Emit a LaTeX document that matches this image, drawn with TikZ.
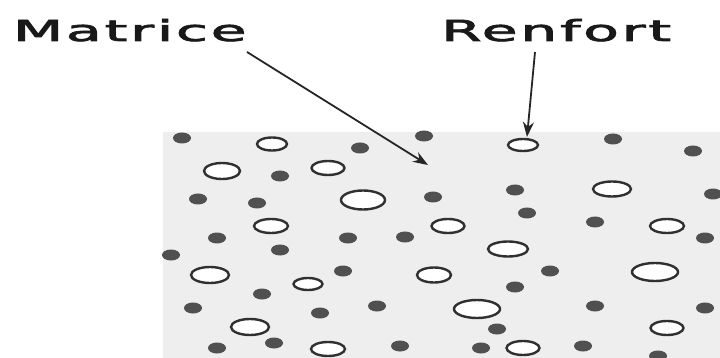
\documentclass[tikz,border=0pt]{standalone}
\usepackage{fontspec}
\usetikzlibrary{arrows.meta}
\newfontfamily\lblfont[LetterSpace=5,FakeBold=2.2]{DejaVu Sans}
\definecolor{matgray}{HTML}{EEEEEE}
\definecolor{dotgray}{HTML}{505050}
\definecolor{ringgray}{HTML}{303030}
\tikzset{
  lbl/.style={anchor=base west, inner sep=0pt, text=black!90,
    font=\lblfont\fontsize{29}{32}\selectfont},
  ptr/.style={draw=black!85, line width=1.8pt,
    -{Stealth[length=15pt,width=11pt]}},
  fib/.style={fill=dotgray},
  ring/.style={fill=white, draw=ringgray, line width=2.4pt},
}
\newcommand{\fdot}[2]{\fill[fib] (#1,#2) ellipse [x radius=9pt, y radius=5.5pt];}
\newcommand{\oring}[4]{\draw[ring] (#1,#2) ellipse [x radius=#3pt, y radius=#4pt];}
\begin{document}
\begin{tikzpicture}[x=1pt,y=-1pt]
\useasboundingbox (0,0) rectangle (720,358);
% matrix region
\fill[matgray] (163,132) rectangle (720,358);
% filled particles
\fdot{182}{138}\fdot{360}{148}\fdot{424}{136}\fdot{280}{176}
\fdot{198}{199}\fdot{257}{203}\fdot{433}{197}\fdot{217}{238}
\fdot{348}{238}\fdot{405}{237}\fdot{171}{255}\fdot{280}{250}
\fdot{343}{271}\fdot{262}{294}\fdot{193}{308}\fdot{320}{313}
\fdot{377}{306}\fdot{217}{348}\fdot{274}{343}\fdot{400}{346}
\fdot{613}{139}\fdot{693}{151}\fdot{515}{190}\fdot{713}{194}
\fdot{527}{213}\fdot{595}{222}\fdot{705}{238}\fdot{550}{271}
\fdot{515}{287}\fdot{595}{306}\fdot{705}{308}\fdot{497}{329}
\fdot{481}{348}\fdot{583}{346}\fdot{658}{356}
% open reinforcement particles
\oring{272}{144}{15}{6.5}
\oring{222}{171}{18}{8}
\oring{328}{168}{16.5}{7}
\oring{363}{200}{22}{9.5}
\oring{271}{226}{17}{7}
\oring{448}{226}{16.5}{7}
\oring{210}{275}{19}{8}
\oring{308}{284}{14.5}{6}
\oring{434}{275}{17}{7.5}
\oring{250}{327}{19}{8}
\oring{328}{349}{17}{7}
\oring{523}{145}{15}{6}
\oring{612}{189}{19}{7.5}
\oring{667}{226}{17}{7}
\oring{508}{249}{20}{7.5}
\oring{655}{272}{23}{9}
\oring{477}{309}{23}{9}
\oring{667}{328}{16.5}{7}
\oring{523}{348}{16.5}{7}
% labels
\node[lbl] (mat) at (13,41) {\scalebox{2.0}[1]{Matrice}};
\node[lbl] (ren) at (441,41) {\scalebox{2.0}[1]{Renfort}};
\coordinate (matstart) at (247,52);
\coordinate (matend) at (428,165);
\coordinate (renstart) at (535,52);
\coordinate (renend) at (527,137);
\draw[ptr] (matstart) -- (matend);
\draw[ptr] (renstart) -- (renend);
\end{tikzpicture}
\end{document}
